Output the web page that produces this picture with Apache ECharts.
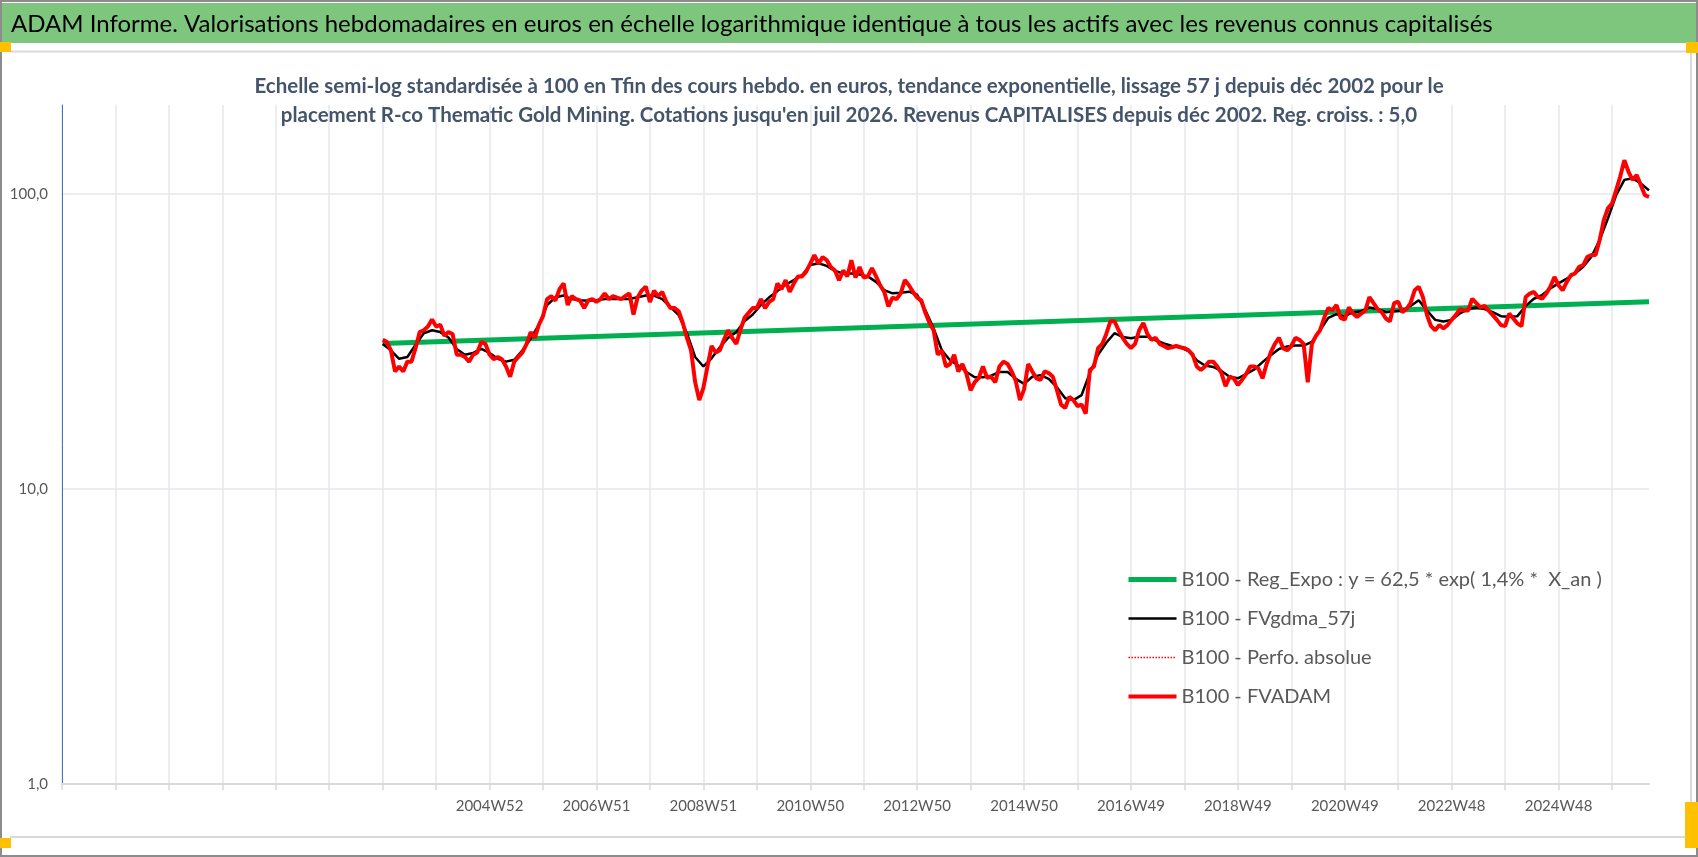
<!DOCTYPE html>
<html lang="fr">
<head>
    <meta charset="UTF-8">
    <title>ADAM Informe - R-co Thematic Gold Mining</title>
    <script src="https://cdn.jsdelivr.net/npm/echarts@6.0.0/dist/echarts.min.js"></script>
    <style>
        html, body { margin: 0; padding: 0; background: #fff; }
        #chart { width: 1698px; height: 857px; }
    </style>
</head>
<body>
<div id="chart"></div>
<script type="text/javascript">
    var FONT = 'Lato, "Noto Sans", sans-serif';

    // axe des x : une categorie toutes les 4 semaines, premiere = 1996W52
    var firstMonday = Date.UTC(1996, 11, 23);
    var nbCat = 387;
    var dataStart = 78;   // 2002W52, debut des cotations
    var xTickLabels = ['2004W52', '2006W51', '2008W51', '2010W50', '2012W50', '2014W50',
        '2016W49', '2018W49', '2020W49', '2022W48', '2024W48'];
    var firstLabelIdx = 104;

    // B100 - FVADAM (toutes les 4 semaines, depuis 2002W52)
    var fvadam = [
        32, 31.5, 29.5, 25, 26, 25, 27, 27, 30, 34, 34.5, 35.5, 37.5,
        35.5, 36, 33, 34, 33.5, 28.5, 28.5, 28, 27, 28.5, 29, 31.5, 31,
        28.5, 27.5, 28, 27.5, 26, 24, 27, 28, 29, 31, 34, 32.5, 36,
        38.5, 44, 45, 43.5, 47.5, 49.7, 42, 45, 44, 43.5, 41, 43.5, 44,
        43, 44, 46, 44, 45, 44.5, 44, 45, 46, 39, 44.5, 47, 48.5,
        43, 47, 45, 46.5, 43, 41, 41, 40, 36.5, 32.5, 29.5, 23, 20,
        22, 26, 30.5, 29, 29.5, 32, 34.5, 32.5, 31, 34.5, 38, 39.5, 41,
        41, 44, 41, 43, 44, 49.7, 47.5, 51, 46.5, 49.7, 52.5, 52.5, 54.5,
        58, 62, 58, 61, 59.6, 56.5, 55, 51, 55, 52.5, 59.6, 52, 56.5,
        52, 52.5, 56, 52.5, 49, 46.5, 41.5, 44.5, 44, 46, 51, 49, 46.5,
        44.5, 43.5, 39.5, 36.5, 34.5, 28.5, 29.5, 26, 26.5, 28.5, 25, 26.5, 24.5,
        21.6, 23, 23.8, 26, 23.8, 24, 23, 26, 27, 26.5, 25, 23.2, 20,
        21.7, 26.5, 25, 23.7, 23.4, 25, 24.7, 24, 21.6, 19.3, 18.8, 20.5, 20,
        19.1, 19.3, 18, 25.3, 26, 30, 31, 33.5, 37, 37, 34.5, 32.5, 31,
        30, 31, 34.5, 36.5, 33.5, 32, 32.5, 31, 30.5, 30, 30.2, 30.5, 30.2,
        30, 29.5, 28.5, 26, 25.3, 26, 27, 27, 26, 24.7, 22.3, 24, 23.7,
        22.5, 23.4, 24.5, 26, 26, 25.6, 23.7, 26.5, 29, 31, 32.5, 30, 29.5,
        30.5, 32.5, 32, 31, 23, 31, 33, 34.5, 38, 41, 40.3, 42, 38,
        37.5, 41.2, 39.3, 38.3, 39.3, 40.2, 44.7, 42.6, 40.7, 39.7, 37.8, 37, 42.6,
        43.1, 39.7, 40.7, 42.6, 47.1, 48.4, 44.7, 38.8, 35.6, 34.5, 35.9, 35, 35.9,
        37.4, 38.8, 40.7, 40.2, 40.2, 44.1, 42.6, 41.2, 41.7, 40.2, 38.8, 37.4, 35.9,
        35.6, 39.3, 37.8, 36.4, 35.6, 44.7, 45.9, 46.5, 44.7, 44.1, 45.9, 48.4, 52.3,
        49, 47.1, 50.3, 53, 53.7, 56.6, 57.3, 61.2, 62, 62, 69.7, 81.4, 89.3,
        92.7, 102.7, 114.4, 130, 119, 111.5, 115.8, 107.2, 98.9, 97.7
    ];

    // B100 - FVgdma_57j (toutes les 8 semaines, depuis 2002W52)
    var fvgdma = [
        31, 29.5, 27.6, 28, 30.8, 33.7, 34.5, 34, 32.6, 29.8,
        28.5, 28.9, 29.8, 28.9, 27.6, 27, 27.4, 29.5, 32.3, 36,
        42, 44.6, 45.2, 44, 43.6, 43.4, 43.6, 44, 44, 44,
        44, 44.6, 45.2, 45.2, 44, 41.3, 38.8, 33.7, 28, 26,
        27.7, 30.2, 32.5, 34, 37, 39, 42, 44.6, 46.8, 49.2,
        51, 53, 57.4, 58.2, 57, 54.8, 53.7, 53.7, 53.3, 52.5,
        50.3, 47.2, 46, 46.2, 46.6, 45.5, 40.3, 35, 29.5, 27.3,
        26.2, 24.9, 23.9, 23.9, 24.2, 24.9, 24.9, 23.6, 22.7, 24,
        24.3, 23.6, 22.1, 20.3, 20, 20.8, 24.7, 28.5, 31.3, 33.7,
        32.7, 32.4, 32.8, 32.8, 31.9, 31.1, 30.5, 30.2, 29.3, 27.3,
        26.2, 25.9, 25.1, 24, 23.7, 24.5, 25.4, 26.9, 28.4, 29.8,
        30.4, 30.6, 30.6, 31.5, 34.5, 38, 39.1, 38.5, 39.7, 40,
        41.2, 40.7, 39.7, 40, 40.2, 41.7, 43.6, 40.2, 37.4, 36.9,
        37.4, 39.3, 40.7, 41.2, 40.7, 39.7, 38.5, 38.3, 38.5, 41.7,
        44.1, 45.4, 47.8, 49.7, 51.6, 53.7, 56.6, 61.2, 69.7, 82.5,
        98.9, 111.5, 113, 108.4, 102.7
    ];

    // B100 - Reg_Expo : valeurs lues aux deux extremites (droite en semi-log)
    var regExpoEnds = [31.1, 43.1];

    var legendNames = [
        'B100 - Reg_Expo : y = 62,5 * exp( 1,4% *  X_an )',
        'B100 - FVgdma_57j',
        'B100 - Perfo. absolue',
        'B100 - FVADAM'
    ];

    function isoWeek(ms) {
        var t = new Date(ms);
        var day = t.getUTCDay() || 7;
        t.setUTCDate(t.getUTCDate() + 4 - day);
        var y = t.getUTCFullYear();
        var wk = Math.ceil(((t - Date.UTC(y, 0, 1)) / 86400000 + 1) / 7);
        return y + 'W' + (wk < 10 ? '0' + wk : wk);
    }

    var weeks = [];
    for (var i = 0; i < nbCat; i++) {
        weeks.push(isoWeek(firstMonday + i * 28 * 86400000));
    }

    var redData = fvadam.map(function (v, k) { return [dataStart + k, v]; });
    var blackData = fvgdma.map(function (v, k) { return [dataStart + 2 * k, v]; });
    var greenData = [[dataStart, regExpoEnds[0]], [nbCat - 1, regExpoEnds[1]]];

    var lineGrey = '#D9D9D9';
    var orange = '#FFC000';

    var option = {
        animation: false,
        backgroundColor: '#fff',
        title: [{
            text: 'ADAM Informe. Valorisations hebdomadaires en euros en échelle logarithmique identique à tous les actifs avec les revenus connus capitalisés',
            left: 6,
            top: 7,
            textStyle: { fontFamily: FONT, fontSize: 24, fontWeight: 'normal', color: '#000000' }
        }, {
            text: "Echelle semi-log standardisée à 100 en Tfin des cours hebdo. en euros, tendance exponentielle, lissage 57 j depuis déc 2002 pour le\nplacement R-co Thematic Gold Mining. Cotations jusqu'en juil 2026. Revenus CAPITALISES depuis déc 2002. Reg. croiss. : 5,0",
            left: 'center',
            top: 67,
            textStyle: { fontFamily: FONT, fontSize: 20.5, fontWeight: 'bold', color: '#44546A', lineHeight: 29, align: 'center' }
        }],
        graphic: [
            { type: 'rect', z: -10, shape: { x: 1, y: 3, width: 1696, height: 40 }, style: { fill: '#7EC67E' } },
            { type: 'line', z: -9, shape: { x1: 10, y1: 51.5, x2: 1691, y2: 51.5 }, style: { stroke: lineGrey, lineWidth: 2 } },
            { type: 'line', z: -9, shape: { x1: 10, y1: 837, x2: 1691, y2: 837 }, style: { stroke: lineGrey, lineWidth: 2 } },
            { type: 'line', z: -9, shape: { x1: 1691, y1: 51.5, x2: 1691, y2: 837 }, style: { stroke: lineGrey, lineWidth: 2 } },
            { type: 'rect', z: -8, shape: { x: 1, y: 1, width: 1696, height: 855 }, style: { fill: 'none', stroke: '#8C8C8C', lineWidth: 2 } },
            { type: 'rect', z: 10, shape: { x: 0, y: 42, width: 11, height: 10 }, style: { fill: orange } },
            { type: 'rect', z: 10, shape: { x: 1686, y: 42, width: 12, height: 11 }, style: { fill: orange } },
            { type: 'rect', z: 10, shape: { x: 0, y: 838, width: 11, height: 10 }, style: { fill: orange } },
            { type: 'rect', z: 10, shape: { x: 1685, y: 802, width: 13, height: 46 }, style: { fill: orange } }
        ],
        grid: { left: 62, right: 49, top: 105, bottom: 73 },
        legend: {
            data: legendNames,
            orient: 'vertical',
            left: 1121,
            top: 564,
            itemWidth: 48,
            itemHeight: 14,
            itemGap: 18,
            selectedMode: false,
            itemStyle: { opacity: 0 },
            lineStyle: { width: 'inherit' },
            textStyle: { fontFamily: FONT, fontSize: 20, color: '#595959', lineHeight: 21 }
        },
        xAxis: {
            type: 'category',
            data: weeks,
            boundaryGap: false,
            axisLine: { lineStyle: { color: lineGrey, width: 2 } },
            axisTick: { interval: 12, length: 6, lineStyle: { color: lineGrey, width: 1.5 } },
            axisLabel: {
                interval: 25,
                margin: 15,
                fontFamily: FONT,
                fontSize: 15,
                color: '#595959',
                formatter: function (v, idx) {
                    if (idx < firstLabelIdx) return '';
                    return xTickLabels[(idx - firstLabelIdx) / 26] || '';
                }
            },
            splitLine: { show: true, interval: 12, lineStyle: { color: '#E4E7EC', width: 1.5 } }
        },
        yAxis: {
            type: 'log',
            logBase: 10,
            min: 1,
            max: 200,
            axisLine: { show: true, lineStyle: { color: '#4472C4', width: 1 } },
            axisTick: { show: false },
            axisLabel: {
                margin: 14,
                fontFamily: FONT,
                fontSize: 15,
                color: '#595959',
                formatter: function (v) {
                    var l = Math.log(v) / Math.LN10;
                    if (Math.abs(l - Math.round(l)) > 1e-6) return '';
                    return v.toFixed(1).replace('.', ',');
                }
            },
            splitLine: { show: true, showMaxLine: false, lineStyle: { color: '#E4E7EC', width: 1.5 } }
        },
        series: [{
            name: legendNames[0],
            type: 'line',
            data: greenData,
            symbol: 'none',
            lineStyle: { color: '#00B050', width: 5 },
            itemStyle: { color: '#00B050' }
        }, {
            name: legendNames[1],
            type: 'line',
            data: blackData,
            symbol: 'none',
            lineStyle: { color: '#000000', width: 2.5 },
            itemStyle: { color: '#000000' }
        }, {
            name: legendNames[2],
            type: 'line',
            data: [],
            symbol: 'none',
            lineStyle: { color: '#FF0000', width: 1.5, type: 'dotted' },
            itemStyle: { color: '#FF0000' }
        }, {
            name: legendNames[3],
            type: 'line',
            data: redData,
            symbol: 'none',
            lineStyle: { color: '#FF0000', width: 4 },
            itemStyle: { color: '#FF0000' }
        }]
    };

    var chart = echarts.init(document.getElementById('chart'));
    chart.setOption(option);
</script>
</body>
</html>
